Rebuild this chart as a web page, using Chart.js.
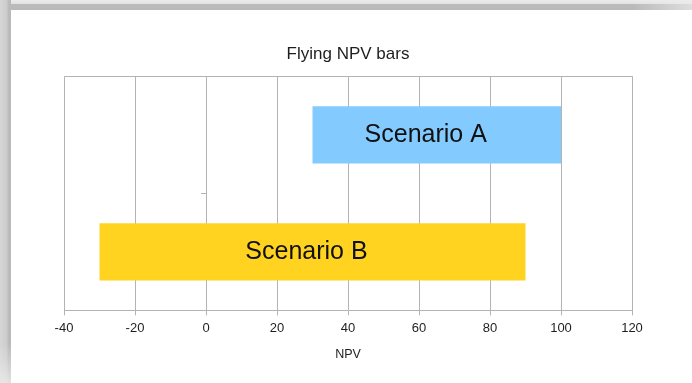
<!DOCTYPE html>
<html>
<head>
<meta charset="utf-8">
<script src="https://cdn.jsdelivr.net/npm/chart.js@4/dist/chart.umd.min.js"></script>
<style>
  html, body { margin: 0; padding: 0; background: #ffffff; }
  #wrap { position: relative; width: 692px; height: 383px; overflow: hidden; }
  #chart { position: absolute; left: 0; top: 0; }
  .edge-top {
    position: absolute; left: 0; top: 0; width: 692px; height: 10px;
    background: linear-gradient(to bottom, #ececec 0px, #e2e2e2 4px, #bbbbbb 4px, #b9b9b9 10px);
  }
  .edge-top-fade {
    position: absolute; right: 0; top: 0; width: 60px; height: 10px;
    background: linear-gradient(to right, rgba(255,255,255,0), rgba(236,236,236,0.7));
  }
  .edge-left {
    position: absolute; left: 0; top: 0; width: 11px; height: 383px;
    background: linear-gradient(to right, #d6d6d6 0px, #cccccc 7px, #bcbcbc 8px, #b9b9b9 11px);
  }
  .edge-left-fade {
    position: absolute; left: 0; bottom: 0; width: 11px; height: 40px;
    background: linear-gradient(to bottom, rgba(255,255,255,0), rgba(235,235,235,0.8));
  }
</style>
</head>
<body>
<div id="wrap">
  <canvas id="chart" width="692" height="383"></canvas>
  <div class="edge-top"></div>
  <div class="edge-top-fade"></div>
  <div class="edge-left"></div>
  <div class="edge-left-fade"></div>
</div>
<script>
// Scenarios and the NPV range each one spans
const categories = ['Scenario A', 'Scenario B'];
const npvLow = [30, -30];
const npvHigh = [100, 90];
const barColors = ['#83caff', '#ffd320'];

// Axis range and tick spacing for NPV
const npvMin = -40;
const npvMax = 120;
const npvStep = 20;

const gridGrey = '#b3b3b3';
const textDark = '#1e1e1e';
const fontFamily = '"Liberation Sans", Arial, sans-serif';

// Horizontal nudge (px) applied to each in-bar name
const nameNudge = [-11, -6];

// Stroke the top edge of the plotting area
const plotFrame = {
  id: 'plotFrame',
  beforeDatasetsDraw(chart) {
    const { ctx, chartArea: a } = chart;
    ctx.save();
    ctx.strokeStyle = gridGrey;
    ctx.lineWidth = 1;
    ctx.beginPath();
    ctx.moveTo(Math.round(a.left) + 0.5, Math.round(a.top) + 0.5);
    ctx.lineTo(Math.round(a.right) + 0.5, Math.round(a.top) + 0.5);
    ctx.stroke();
    ctx.restore();
  }
};

// Write each scenario's name inside its bar
const barNames = {
  id: 'barNames',
  afterDatasetsDraw(chart) {
    const { ctx } = chart;
    const meta = chart.getDatasetMeta(0);
    ctx.save();
    ctx.font = '25px ' + fontFamily;
    ctx.fillStyle = '#111111';
    ctx.textAlign = 'center';
    ctx.textBaseline = 'middle';
    meta.data.forEach((bar, i) => {
      const c = bar.getCenterPoint();
      ctx.fillText(categories[i], c.x + nameNudge[i], c.y);
    });
    ctx.restore();
  }
};

new Chart(document.getElementById('chart'), {
  type: 'bar',
  data: {
    labels: categories,
    datasets: [{
      data: categories.map((_, i) => [npvLow[i], npvHigh[i]]),
      backgroundColor: barColors,
      borderWidth: 0,
      categoryPercentage: 1,
      barPercentage: 0.49
    }]
  },
  plugins: [plotFrame, barNames],
  options: {
    indexAxis: 'y',
    responsive: false,
    animation: false,
    layout: { padding: { left: 64, right: 60, top: 0, bottom: 21 } },
    plugins: {
      legend: { display: false },
      tooltip: { enabled: false },
      title: {
        display: true,
        text: 'Flying NPV bars',
        color: textDark,
        font: { family: fontFamily, size: 17, weight: 'normal' },
        padding: { top: 44, bottom: 12 }
      }
    },
    scales: {
      x: {
        type: 'linear',
        min: npvMin,
        max: npvMax,
        ticks: {
          stepSize: npvStep,
          color: textDark,
          padding: 5,
          font: { family: fontFamily, size: 13 }
        },
        grid: { color: gridGrey, lineWidth: 1, tickLength: 5 },
        border: { color: gridGrey, width: 1 },
        title: {
          display: true,
          text: 'NPV',
          color: textDark,
          font: { family: fontFamily, size: 12.5 },
          padding: { top: 6, bottom: 0 }
        }
      },
      y: {
        type: 'category',
        position: { x: 0 },
        offset: true,
        ticks: { display: false },
        grid: {
          drawOnChartArea: false,
          tickLength: 5,
          // only the divider between the two scenarios gets a tick mark
          color: (ctx) => (ctx.index === 1 ? gridGrey : 'rgba(0,0,0,0)')
        },
        border: { color: gridGrey, width: 1 }
      }
    }
  }
});
</script>
</body>
</html>
